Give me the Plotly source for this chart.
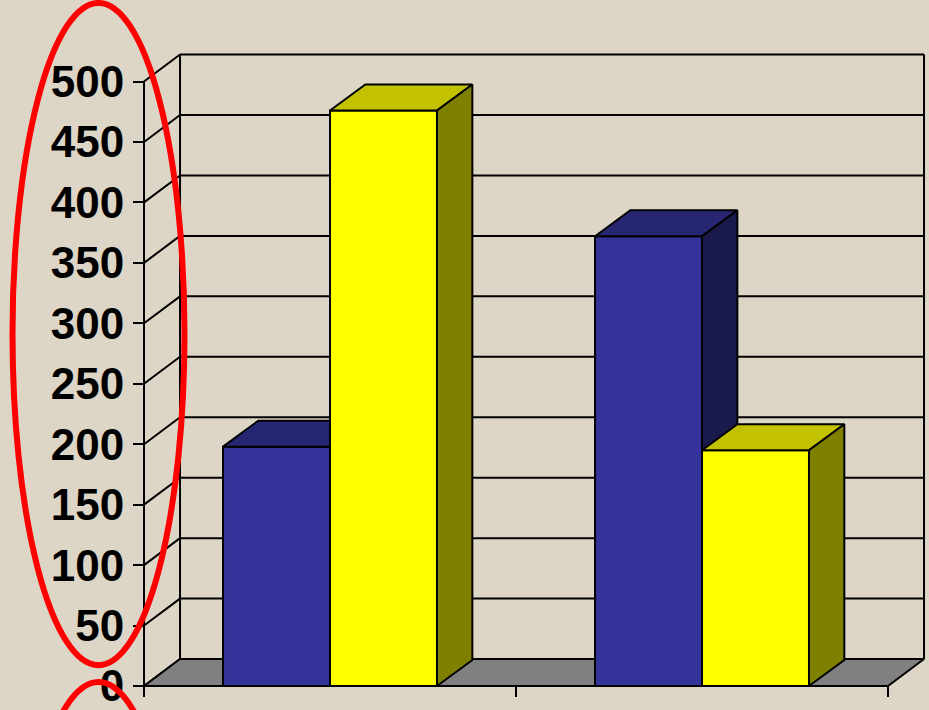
import plotly.graph_objects as go

# ---------------- data ----------------
categories = ["Group 1", "Group 2"]
series_blue = [198, 372]
series_yellow = [476, 195]
tick_vals = [0, 50, 100, 150, 200, 250, 300, 350, 400, 450, 500]
tick_text = [str(v) for v in tick_vals]

# ---------------- styling ----------------
BG = "#DDD5C5"
BLUE = dict(front="#333399", top="#262673", side="#1A1A4D")
YELLOW = dict(front="#FFFF00", top="#C2C200", side="#808000")
FLOOR = "#808080"

W, H = 929, 710
ML, MB = 100, 18
BAR_W = 0.2876            # width of one bar in category units
DEPTH_X, DEPTH_Y = 0.0968, 22.3   # oblique depth offset of walls (data units)
BAR_DX, BAR_DY = 0.095, 21.5      # oblique depth offset of bars
X_LO, X_HI = -0.6183, 1.6102
Y_LO, Y_HI = -1.645, 567.43
n = len(categories)
x_left, x_right = -0.5, n - 0.5
vmax = tick_vals[-1]

fig = go.Figure()


def poly(xs, ys, fill, width=2):
    fig.add_trace(go.Scatter(x=xs + [xs[0]], y=ys + [ys[0]], mode="lines",
                             fill="toself", fillcolor=fill,
                             line=dict(color="black", width=width),
                             hoverinfo="skip", showlegend=False))


def line(xs, ys, width=2):
    fig.add_trace(go.Scatter(x=xs, y=ys, mode="lines",
                             line=dict(color="black", width=width),
                             hoverinfo="skip", showlegend=False))


# back wall grid lines
for v in tick_vals:
    line([x_left + DEPTH_X, x_right + DEPTH_X], [v + DEPTH_Y, v + DEPTH_Y])
# back wall verticals
line([x_left + DEPTH_X, x_left + DEPTH_X], [DEPTH_Y, vmax + DEPTH_Y])
line([x_right + DEPTH_X, x_right + DEPTH_X], [DEPTH_Y, vmax + DEPTH_Y])
# left wall diagonals
for v in tick_vals:
    line([x_left, x_left + DEPTH_X], [v, v + DEPTH_Y])
# front value axis
line([x_left, x_left], [0, vmax])

# floor
poly([x_left, x_right, x_right + DEPTH_X, x_left + DEPTH_X],
     [0, 0, DEPTH_Y, DEPTH_Y], FLOOR)


def bar3d(x0, x1, v, col):
    poly([x0, x1, x1, x0], [0, 0, v, v], col["front"])
    poly([x0, x1, x1 + BAR_DX, x0 + BAR_DX], [v, v, v + BAR_DY, v + BAR_DY], col["top"])
    poly([x1, x1 + BAR_DX, x1 + BAR_DX, x1], [0, BAR_DY, v + BAR_DY, v], col["side"])


for i in range(n):
    bar3d(i - BAR_W, i, series_blue[i], BLUE)
    bar3d(i, i + BAR_W, series_yellow[i], YELLOW)

# ---------------- layout ----------------
plot_w = W - ML
plot_h = H - MB


def px2paper_x(px):
    return (px - ML) / plot_w


def px2paper_y(py):
    return (plot_h - py) / plot_h


shapes = []
for (cx, cy, rx, ry) in [(98.5, 336, 86, 333), (98.5, 1019, 86, 333)]:
    shapes.append(dict(type="circle", xref="paper", yref="paper",
                       x0=px2paper_x(cx - rx), x1=px2paper_x(cx + rx),
                       y0=px2paper_y(cy + ry), y1=px2paper_y(cy - ry),
                       line=dict(color="#FF0000", width=6), layer="above"))

fig.update_layout(
    width=W, height=H,
    margin=dict(l=ML, r=0, t=0, b=MB, pad=0),
    paper_bgcolor=BG, plot_bgcolor="rgba(0,0,0,0)",
    shapes=shapes,
    xaxis=dict(range=[X_LO, X_HI], domain=[0, 1], showgrid=False, zeroline=False,
               showline=False, tickvals=[x_left + k for k in range(n + 1)],
               ticktext=[""] * (n + 1), ticks="outside", ticklen=10, tickwidth=2,
               tickcolor="black", anchor="free",
               position=(0 - Y_LO) / (Y_HI - Y_LO), fixedrange=True),
    yaxis=dict(range=[Y_LO, Y_HI], showgrid=False, zeroline=False, showline=False,
               tickvals=tick_vals, ticktext=tick_text, ticks="outside", ticklen=11,
               tickwidth=2, tickcolor="black", anchor="free",
               position=(x_left - X_LO) / (X_HI - X_LO), ticklabelstandoff=0,
               ticklabeloverflow="allow",
               tickfont=dict(family="Liberation Sans, Arial, sans-serif", size=44,
                             color="black", weight="bold"), fixedrange=True),
)

fig.write_html("out.html", config={"displayModeBar": False},
               post_script="document.body.style.margin='0';document.body.style.padding='0';"
                           "document.body.style.background='" + BG + "';")
